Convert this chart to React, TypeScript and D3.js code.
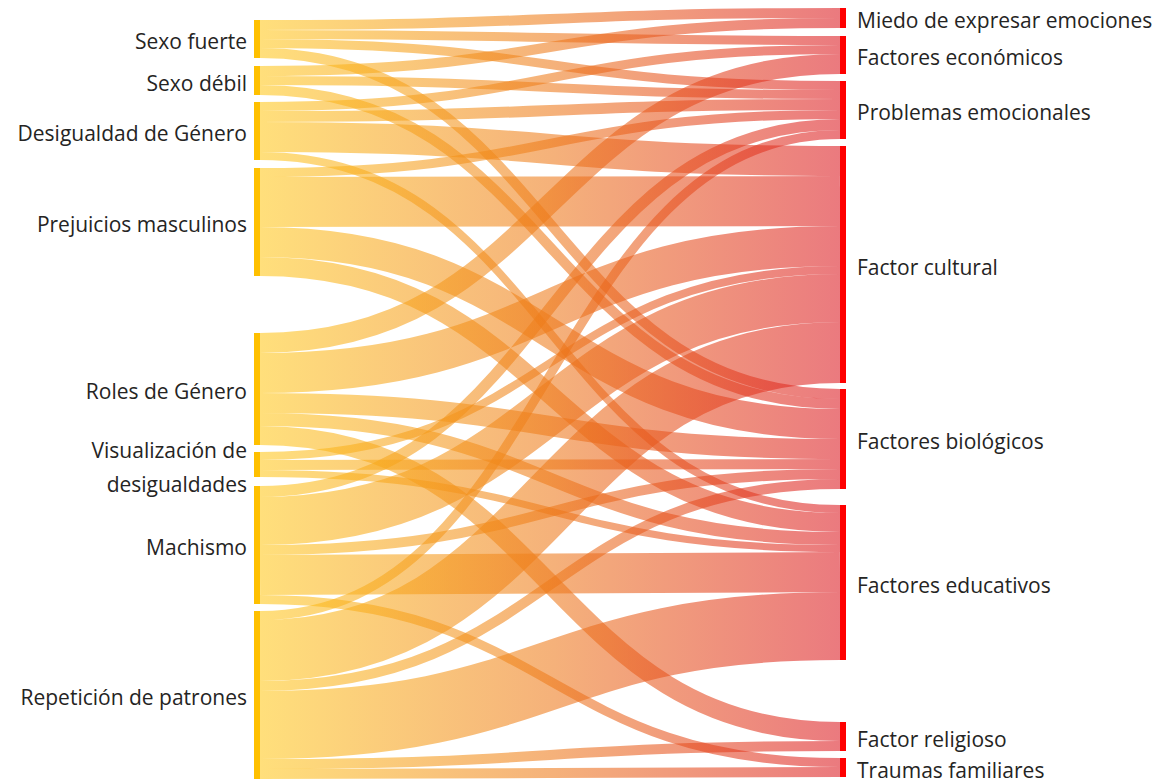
import React from "react";
import * as d3 from "d3";

// ---------- data ----------
const sourceNodes = [
  "Sexo fuerte",
  "Sexo débil",
  "Desigualdad de Género",
  "Prejuicios masculinos",
  "Roles de Género",
  "Visualización de desigualdades",
  "Machismo",
  "Repetición de patrones",
];

const targetNodes = [
  "Miedo de expresar emociones",
  "Factores económicos",
  "Problemas emocionales",
  "Factor cultural",
  "Factores biológicos",
  "Factores educativos",
  "Factor religioso",
  "Traumas familiares",
];

// [source, target, value]
const flows: [string, string, number][] = [
  ["Sexo fuerte", "Miedo de expresar emociones", 10],
  ["Sexo fuerte", "Factores económicos", 9],
  ["Sexo fuerte", "Problemas emocionales", 9],
  ["Sexo fuerte", "Factores biológicos", 10],
  ["Sexo débil", "Miedo de expresar emociones", 10],
  ["Sexo débil", "Problemas emocionales", 9],
  ["Sexo débil", "Factores biológicos", 10],
  ["Desigualdad de Género", "Factores económicos", 9],
  ["Desigualdad de Género", "Problemas emocionales", 11],
  ["Desigualdad de Género", "Factor cultural", 30],
  ["Desigualdad de Género", "Factores educativos", 8],
  ["Prejuicios masculinos", "Problemas emocionales", 9],
  ["Prejuicios masculinos", "Factor cultural", 50],
  ["Prejuicios masculinos", "Factores biológicos", 30],
  ["Prejuicios masculinos", "Factores educativos", 19],
  ["Roles de Género", "Factores económicos", 20],
  ["Roles de Género", "Factor cultural", 40],
  ["Roles de Género", "Factores biológicos", 20],
  ["Roles de Género", "Factores educativos", 13],
  ["Roles de Género", "Factor religioso", 19],
  ["Visualización de desigualdades", "Factor cultural", 8],
  ["Visualización de desigualdades", "Factores biológicos", 10],
  ["Visualización de desigualdades", "Factores educativos", 7],
  ["Machismo", "Problemas emocionales", 11],
  ["Machismo", "Factor cultural", 48],
  ["Machismo", "Factores biológicos", 10],
  ["Machismo", "Factores educativos", 40],
  ["Machismo", "Traumas familiares", 9],
  ["Repetición de patrones", "Problemas emocionales", 9],
  ["Repetición de patrones", "Factor cultural", 61],
  ["Repetición de patrones", "Factores biológicos", 10],
  ["Repetición de patrones", "Factores educativos", 68],
  ["Repetición de patrones", "Factor religioso", 10],
  ["Repetición de patrones", "Traumas familiares", 10],
];

// ---------- layout constants ----------
const W = 1173;
const H = 784;
const leftX = 254;
const rightX = 840;
const nodeW = 6;
const leftTop = 20;
const rightTop = 8;
const leftGaps = [8, 7, 8, 57, 7, 9, 7];
const rightGaps = [8, 7, 7, 6, 16, 62, 7];

type NodeLayout = { name: string; y0: number; y1: number; value: number };

function layoutColumn(names: string[], values: Map<string, number>, top: number, gaps: number[], ky: d3.ScaleLinear<number, number>) {
  let cursor = top;
  return names.map((name, i) => {
    const v = values.get(name) || 0;
    const y0 = cursor;
    const y1 = y0 + ky(v);
    cursor = y1 + (gaps[i] ?? 0);
    return { name, y0, y1, value: v } as NodeLayout;
  });
}

export default function App() {
  const ky = d3.scaleLinear().domain([0, 1]).range([0, 1]);

  const srcTotals = d3.rollup(flows, (v) => d3.sum(v, (d) => d[2]), (d) => d[0]);
  const tgtTotals = d3.rollup(flows, (v) => d3.sum(v, (d) => d[2]), (d) => d[1]);

  const left = layoutColumn(sourceNodes, srcTotals, leftTop, leftGaps, ky);
  const right = layoutColumn(targetNodes, tgtTotals, rightTop, rightGaps, ky);
  const leftMap = new Map(left.map((n) => [n.name, n]));
  const rightMap = new Map(right.map((n) => [n.name, n]));

  const srcOffset = new Map<string, number>();
  const tgtOffset = new Map<string, number>();
  const srcOrder = new Map(sourceNodes.map((n, i) => [n, i]));
  const tgtOrder = new Map(targetNodes.map((n, i) => [n, i]));

  const idx = flows.map((_, i) => i);
  const bySource = [...idx].sort(
    (a, b) => srcOrder.get(flows[a][0])! - srcOrder.get(flows[b][0])! || tgtOrder.get(flows[a][1])! - tgtOrder.get(flows[b][1])!
  );
  const sy = new Map<number, number>();
  bySource.forEach((i) => {
    const f = flows[i];
    const n = leftMap.get(f[0])!;
    const off = srcOffset.get(f[0]) || 0;
    const w = ky(f[2]);
    sy.set(i, n.y0 + off + w / 2);
    srcOffset.set(f[0], off + w);
  });
  const byTarget = [...idx].sort(
    (a, b) => tgtOrder.get(flows[a][1])! - tgtOrder.get(flows[b][1])! || srcOrder.get(flows[a][0])! - srcOrder.get(flows[b][0])!
  );
  const ty = new Map<number, number>();
  byTarget.forEach((i) => {
    const f = flows[i];
    const n = rightMap.get(f[1])!;
    const off = tgtOffset.get(f[1]) || 0;
    const w = ky(f[2]);
    ty.set(i, n.y0 + off + w / 2);
    tgtOffset.set(f[1], off + w);
  });

  const link = d3.linkHorizontal();
  const x0 = leftX + nodeW;
  const x1 = rightX;

  const font = "'Segoe UI', 'Open Sans', 'Noto Sans', sans-serif";
  const fs = 21;

  return (
    <div style={{ position: "absolute", left: 0, top: 0 }}>
      <svg width={W} height={H} style={{ display: "block", background: "#fff" }}>
        <defs>
          <linearGradient id="lg" gradientUnits="userSpaceOnUse" x1={x0} x2={x1} y1={0} y2={0}>
            <stop offset="0%" stopColor="#FFC81C" />
            <stop offset="50%" stopColor="#EE7A1A" />
            <stop offset="100%" stopColor="#DC1A22" />
          </linearGradient>
        </defs>
        <g>
          {flows.map((f, i) => (
            <path
              key={i}
              d={link({ source: [x0, sy.get(i)!], target: [x1, ty.get(i)!] }) || ""}
              fill="none"
              stroke="url(#lg)"
              strokeOpacity={0.58}
              strokeWidth={ky(f[2])}
            />
          ))}
        </g>
        <g>
          {left.map((n) => (
            <rect key={n.name} x={leftX} y={n.y0} width={nodeW} height={n.y1 - n.y0} fill="#FFC000" />
          ))}
          {right.map((n) => (
            <rect key={n.name} x={rightX} y={n.y0} width={nodeW} height={n.y1 - n.y0} fill="#FF0000" />
          ))}
        </g>
        <g fontFamily={font} fontSize={fs} fill="#252423">
          {left.map((n) => {
            const cy = (n.y0 + n.y1) / 2;
            if (n.name === "Visualización de desigualdades") {
              return (
                <text key={n.name} x={leftX - 7} textAnchor="end">
                  <tspan x={leftX - 7} y={cy - 15} dominantBaseline="central">Visualización de</tspan>
                  <tspan x={leftX - 7} y={cy + 19} dominantBaseline="central">desigualdades</tspan>
                </text>
              );
            }
            return (
              <text key={n.name} x={leftX - 7} y={cy + 2} textAnchor="end" dominantBaseline="central">
                {n.name}
              </text>
            );
          })}
          {right.map((n) => (
            <text key={n.name} x={rightX + nodeW + 11} y={(n.y0 + n.y1) / 2 + 2} dominantBaseline="central">
              {n.name}
            </text>
          ))}
        </g>
      </svg>
    </div>
  );
}
